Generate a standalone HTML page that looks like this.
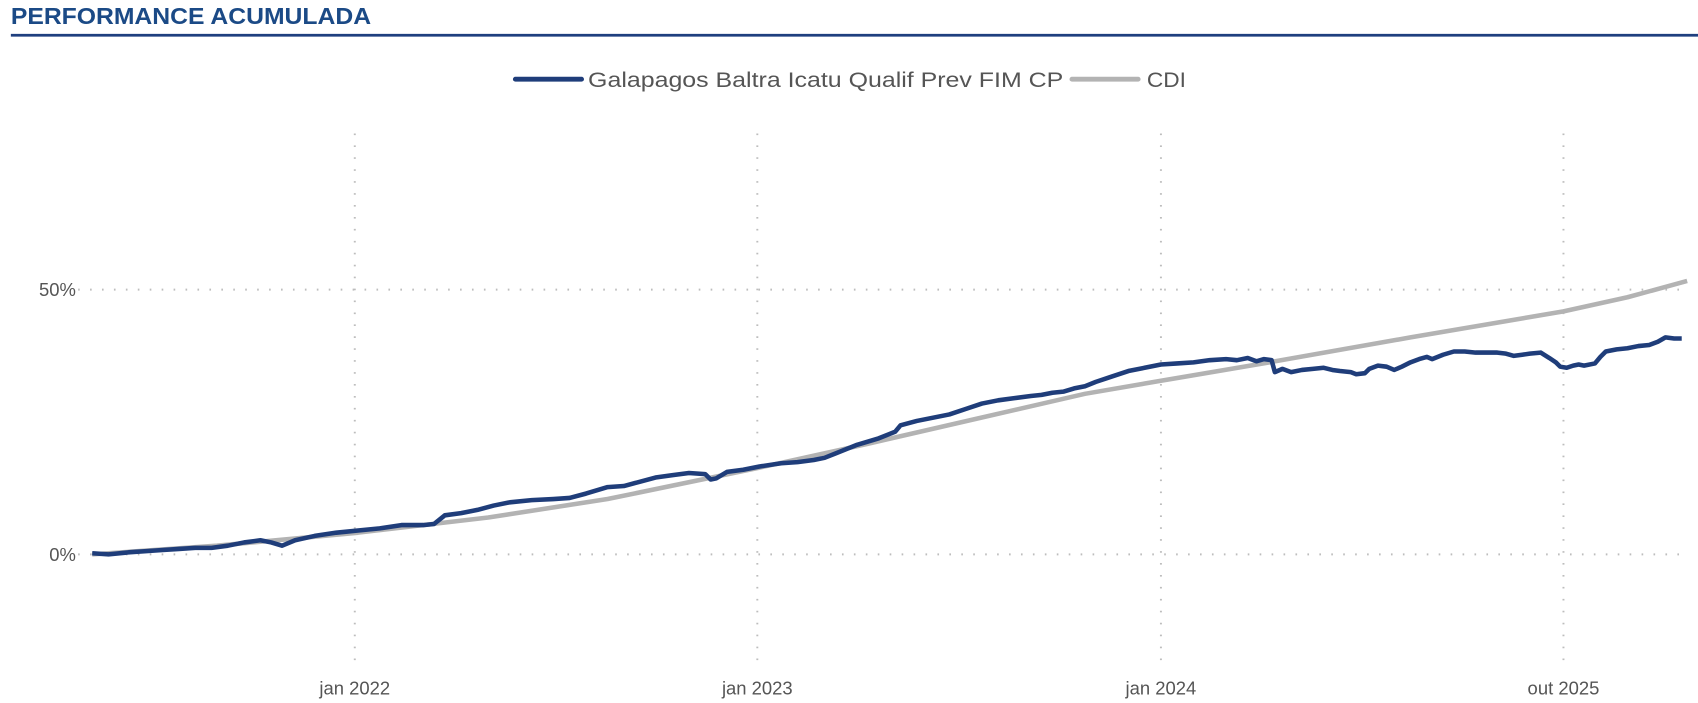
<!DOCTYPE html>
<html><head><meta charset="utf-8"><style>
html,body{margin:0;padding:0;background:#fff;}
svg{display:block;}
text{font-family:"Liberation Sans",sans-serif;}
</style></head><body>
<svg width="1698" height="703" viewBox="0 0 1565 648" preserveAspectRatio="none">
<text x="10" y="22" font-size="21" font-weight="bold" fill="#1b4a86" textLength="332" lengthAdjust="spacingAndGlyphs">PERFORMANCE ACUMULADA</text>
<line x1="10" y1="32.5" x2="1565" y2="32.5" stroke="#1f3f7f" stroke-width="2.5"/>
<line x1="475" y1="73" x2="536" y2="73" stroke="#1f3d7a" stroke-width="4.5" stroke-linecap="round"/>
<text x="542" y="80" font-size="20" fill="#555" textLength="438" lengthAdjust="spacingAndGlyphs">Galapagos Baltra Icatu Qualif Prev FIM CP</text>
<line x1="988" y1="73" x2="1049" y2="73" stroke="#b3b3b3" stroke-width="4.5" stroke-linecap="round"/>
<text x="1057" y="80" font-size="20" fill="#555" textLength="36" lengthAdjust="spacingAndGlyphs">CDI</text>
<g stroke="#bdbdbd" stroke-width="1.8" stroke-dasharray="1.5 9.5" fill="none">
<line x1="327" y1="123" x2="327" y2="610"/>
<line x1="698" y1="123" x2="698" y2="610"/>
<line x1="1070" y1="123" x2="1070" y2="610"/>
<line x1="1441" y1="123" x2="1441" y2="610"/>
<line x1="72" y1="267" x2="1555" y2="267"/>
<line x1="72" y1="511" x2="1555" y2="511"/>
</g>
<g font-size="17" fill="#555">
<text x="70" y="273" text-anchor="end">50%</text>
<text x="70" y="517" text-anchor="end">0%</text>
<text x="327" y="640" text-anchor="middle">jan 2022</text>
<text x="698" y="640" text-anchor="middle">jan 2023</text>
<text x="1070" y="640" text-anchor="middle">jan 2024</text>
<text x="1441" y="640" text-anchor="middle">out 2025</text>
</g>
<polyline fill="none" stroke="#b3b3b3" stroke-width="4.2" stroke-linejoin="round" points="85,511 200,503 330,491 450,477 560,460 700,431 800,409 900,386 1000,363 1070,351 1170,334 1300,311 1441,287 1500,274 1555,259"/>
<polyline fill="none" stroke="#1f3d7a" stroke-width="4.2" stroke-linejoin="round" points="85,510 100,511 120,509 135,508 150,507 165,506 180,505 195,505 210,503 225,500 240,498 250,500 260,503 272,498 290,494 310,491 330,489 350,487 370,484 390,484 400,483 410,475 425,473 440,470 455,466 470,463 490,461 510,460 525,459 540,455 560,449 575,448 590,444 605,440 620,438 635,436 650,437 655,442 660,441 670,435 685,433 700,430 720,427 735,426 750,424 760,422 770,418 790,410 810,404 825,398 830,392 845,388 860,385 875,382 890,377 905,372 920,369 935,367 950,365 960,364 970,362 980,361 990,358 1000,356 1010,352 1025,347 1040,342 1055,339 1070,336 1085,335 1100,334 1115,332 1130,331 1140,332 1150,330 1158,333 1165,331 1172,332 1175,343 1182,340 1190,343 1200,341 1210,340 1220,339 1228,341 1235,342 1245,343 1250,345 1258,344 1262,340 1270,337 1278,338 1285,341 1292,338 1300,334 1308,331 1315,329 1320,331 1330,327 1340,324 1350,324 1360,325 1370,325 1380,325 1388,326 1395,328 1403,327 1410,326 1420,325 1428,330 1434,334 1438,338 1444,339 1450,337 1455,336 1460,337 1470,335 1475,329 1480,324 1490,322 1500,321 1510,319 1520,318 1528,315 1535,311 1543,312 1550,312"/>
</svg>
</body></html>
